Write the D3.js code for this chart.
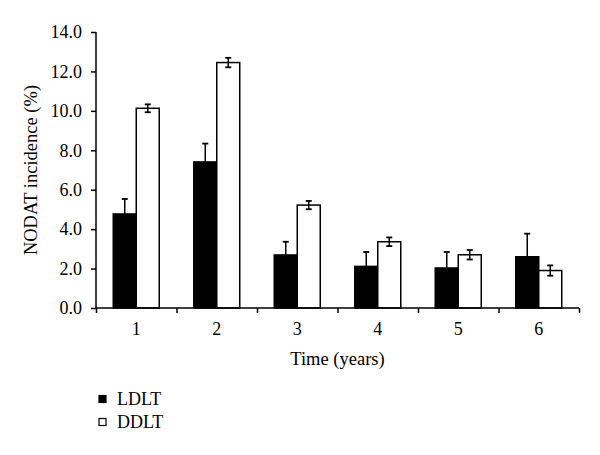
<!DOCTYPE html>
<html>
<head>
<meta charset="utf-8">
<script src="https://cdn.jsdelivr.net/npm/d3@7"></script>
<style>
  html, body { margin: 0; padding: 0; background: #fff; }
  svg { display: block; }
  text { font-family: "Liberation Serif", "Times New Roman", serif; fill: #000; }
</style>
</head>
<body>
<svg id="chart" width="600" height="455"></svg>
<script>
const categories = ["1", "2", "3", "4", "5", "6"];
const seriesNames = ["LDLT", "DDLT"];
const ldltValues = [4.77, 7.41, 2.69, 2.11, 2.03, 2.60];
const ldltErrors = [0.76, 0.93, 0.67, 0.73, 0.81, 1.17];
const ddltValues = [10.13, 12.45, 5.22, 3.36, 2.70, 1.90];
const ddltErrors = [0.20, 0.24, 0.21, 0.22, 0.24, 0.26];
const yTicks = [0, 2, 4, 6, 8, 10, 12, 14];

const svg = d3.select("#chart");
const mLeft = 96, mRight = 579, mTop = 32, mBottom = 308;
const fontSize = "18px";

const x0 = d3.scaleBand().domain(categories).range([mLeft, mRight]).paddingInner(0).paddingOuter(0);
const x1 = d3.scaleBand().domain(seriesNames).range([0, x0.bandwidth()]).paddingInner(0).paddingOuter(0.75);
const y = d3.scaleLinear().domain([0, 14]).range([mBottom, mTop]);

const data = categories.map((c, i) => ({
  cat: c,
  vals: [
    { s: "LDLT", v: ldltValues[i], e: ldltErrors[i] },
    { s: "DDLT", v: ddltValues[i], e: ddltErrors[i] }
  ]
}));

const g = svg.append("g");
const groups = g.selectAll("g.grp").data(data).join("g")
  .attr("class", "grp")
  .attr("transform", d => `translate(${x0(d.cat)},0)`);

groups.selectAll("rect").data(d => d.vals).join("rect")
  .attr("x", d => x1(d.s))
  .attr("y", d => y(d.v))
  .attr("width", x1.bandwidth())
  .attr("height", d => y(0) - y(d.v))
  .attr("fill", d => d.s === "LDLT" ? "#000" : "#fff")
  .attr("stroke", "#000")
  .attr("stroke-width", 1.5);

// Error bars
const capW = 3;
groups.each(function(d) {
  const gg = d3.select(this);
  d.vals.forEach(p => {
    const cx = x1(p.s) + x1.bandwidth() / 2;
    const yTop = y(p.v + p.e);
    const yBot = p.s === "LDLT" ? y(p.v) : y(p.v - p.e);
    gg.append("line").attr("x1", cx).attr("x2", cx).attr("y1", yTop).attr("y2", yBot)
      .attr("stroke", "#000").attr("stroke-width", 1.5);
    gg.append("line").attr("x1", cx - capW).attr("x2", cx + capW).attr("y1", yTop).attr("y2", yTop)
      .attr("stroke", "#000").attr("stroke-width", 1.8);
    if (p.s === "DDLT") {
      gg.append("line").attr("x1", cx - capW).attr("x2", cx + capW).attr("y1", yBot).attr("y2", yBot)
        .attr("stroke", "#000").attr("stroke-width", 1.8);
    }
  });
});

// Y axis
const yAxis = svg.append("g").attr("transform", `translate(${mLeft},0)`)
  .call(d3.axisLeft(y).tickValues(yTicks).tickFormat(d3.format(".1f")).tickSize(5).tickPadding(9));
yAxis.selectAll("text").style("font-size", fontSize).style("font-family", '"Liberation Serif", serif');
yAxis.selectAll("line, path").attr("stroke", "#000").attr("stroke-width", 1.5);
yAxis.select(".domain").attr("d", `M0,${mTop}V${mBottom}`);

// X axis: ticks at band edges
const edgeScale = d3.scaleLinear().domain([0, categories.length]).range([mLeft, mRight]);
const xAxisEdges = svg.append("g").attr("transform", `translate(0,${mBottom})`)
  .call(d3.axisBottom(edgeScale).tickValues(d3.range(0, categories.length + 1)).tickFormat("").tickSize(5));
xAxisEdges.selectAll("line, path").attr("stroke", "#000").attr("stroke-width", 1.5);
xAxisEdges.select(".domain").attr("d", `M${mLeft},0H${mRight}`);

const xAxisLabels = svg.append("g").attr("transform", `translate(0,${mBottom})`)
  .call(d3.axisBottom(x0).tickSize(0).tickPadding(14));
xAxisLabels.select(".domain").remove();
xAxisLabels.selectAll("text").style("font-size", fontSize).style("font-family", '"Liberation Serif", serif');

// Axis titles
svg.append("text")
  .attr("transform", `translate(37,${(mTop + mBottom) / 2}) rotate(-90)`)
  .attr("text-anchor", "middle")
  .style("font-size", "18.5px")
  .text("NODAT incidence (%)");

svg.append("text")
  .attr("x", (mLeft + mRight) / 2)
  .attr("y", 365)
  .attr("text-anchor", "middle")
  .style("font-size", "18.5px")
  .text("Time (years)");

// Legend
const legend = svg.append("g");
seriesNames.forEach((s, i) => {
  const ly = 399 + i * 23;
  legend.append("rect")
    .attr("x", 99).attr("y", ly - 3.5).attr("width", 7).attr("height", 7)
    .attr("fill", s === "LDLT" ? "#000" : "#fff")
    .attr("stroke", "#000").attr("stroke-width", 1.2);
  legend.append("text")
    .attr("x", 117).attr("y", ly + 6)
    .style("font-size", fontSize)
    .text(s);
});
</script>
</body>
</html>
